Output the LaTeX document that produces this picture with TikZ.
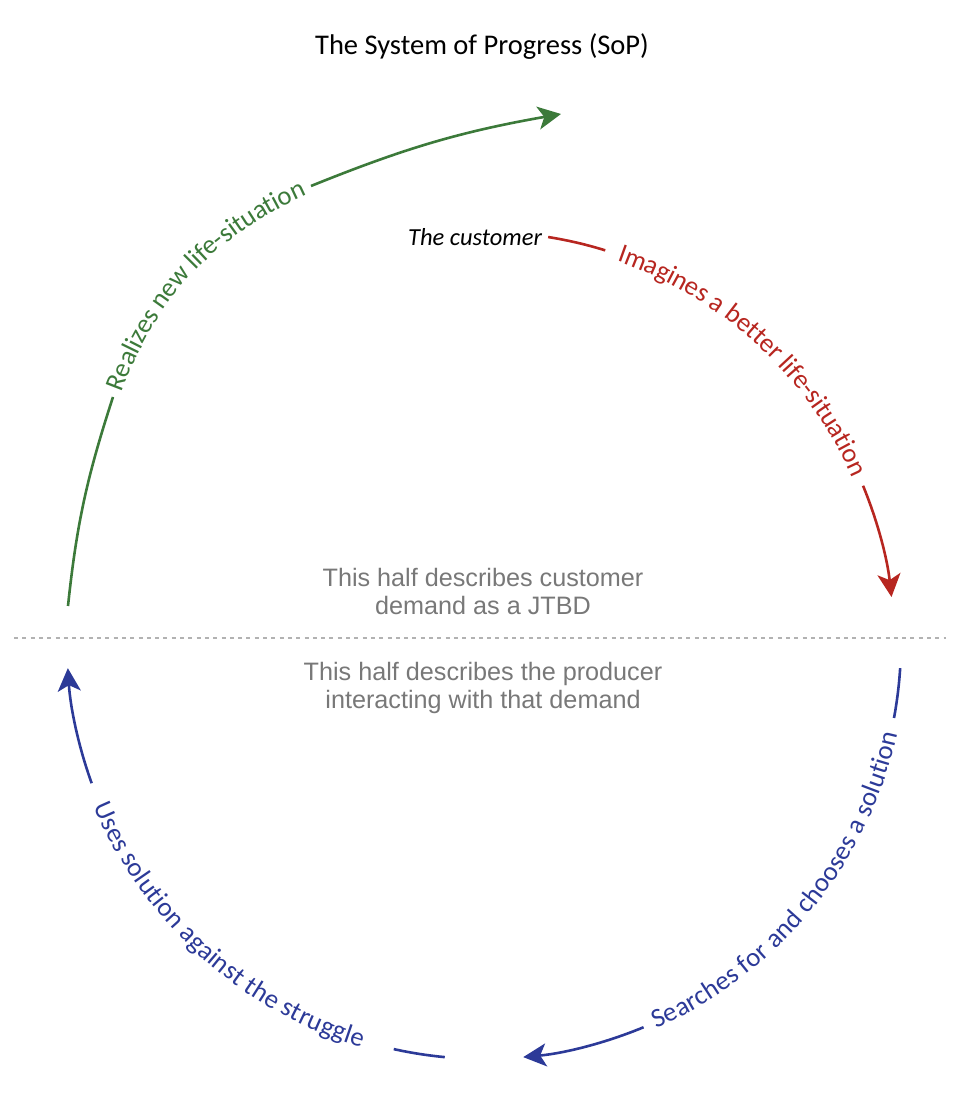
\documentclass[tikz,border=0pt]{standalone}
\usepackage{fontspec}
\setmainfont{Carlito}
\newfontfamily\notefont{Liberation Sans}
\usetikzlibrary{positioning}
\usetikzlibrary{arrows.meta}
\usetikzlibrary{calc}
\usetikzlibrary{decorations.text}
\definecolor{sopgreen}{RGB}{60,122,58}
\definecolor{sopred}{RGB}{183,38,32}
\definecolor{sopblue}{RGB}{44,58,152}
\definecolor{sopgray}{RGB}{120,120,120}
\definecolor{sopdash}{RGB}{178,178,178}
\newcommand{\arcfont}{\fontsize{26.8}{26.8}\selectfont}
\tikzset{
x=1pt, y=1pt,
   line/.style = {%
    line width=2.6pt},
  arrow/.style = {%
    line width=2.6pt,
    -{Stealth[length=23pt, width=23pt, inset=6pt]}},
  along/.style 2 args = {%
    decorate,
    decoration={text along path,
        text={|\arcfont\color{#2}|#1},
        text align=center,
        raise=-6.5pt}},% <-- centres the letters on the arc
   half/.style = {%
    inner sep=0pt,
    align=center,
    text=sopgray,
    font=\notefont\fontsize{25.2}{28.5}\selectfont},
    }
\begin{document}
\begin{tikzpicture}
    \useasboundingbox (0,0) rectangle (968,1112);
    \coordinate (O) at (484,470);
    \node[anchor=base, font=\fontsize{28.5}{28.5}\selectfont] (sop) at (482,1057) {The System of Progress (SoP)};

    % divider between the two halves
    \coordinate (divL) at (14,474);
    \coordinate (divR) at (946,474);
    \coordinate (mid) at (483,474);
    \draw[sopdash, line width=2pt, dash pattern=on 4pt off 4.3pt] (divL) -- (divR);
    \node[half, above=23pt of mid] (demand) {This half describes customer\\demand as a JTBD};
    \node[half, below=24pt of mid] (producer) {This half describes the producer\\interacting with that demand};

    % red: imagines
    \coordinate (r0) at ($(O)+(81:410pt)$);
    \coordinate (r1) at ($(O)+(22.4:410pt)$);
    \node[left=6pt of r0, inner sep=0pt, font=\itshape\fontsize{24.5}{24.5}\selectfont] (cust) {The customer};
    \draw[sopred, line] (r0) arc[start angle=81, end angle=72.8, radius=410pt];
    \path[along={Imagines a better life-situation}{sopred}] ($(O)+(73.6:410pt)$) arc[start angle=73.6, end angle=21.2, radius=410pt];
    \draw[sopred, arrow] (r1) arc[start angle=22.4, end angle=6.3, radius=410pt];

    % blue: searches
    \coordinate (b0) at ($(O)+(-3.6:417pt)$);
    \coordinate (b1) at ($(O)+(-67.5:417pt)$);
    \draw[sopblue, line] (b0) arc[start angle=-3.6, end angle=-10.5, radius=417pt];
    \path[along={Searches for and chooses a solution}{sopblue}] ($(O)+(-70:417pt)$) arc[start angle=-70, end angle=-8.5, radius=417pt];
    \draw[sopblue, arrow] (b1) arc[start angle=-67.5, end angle=-84.6, radius=417pt];

    % blue: uses
    \coordinate (u0) at ($(O)+(264.6:417pt)$);
    \coordinate (u1) at ($(O)+(199.8:417pt)$);
    \draw[sopblue, line] (u0) arc[start angle=264.6, end angle=257.5, radius=417pt];
    \path[along={Uses solution against the struggle}{sopblue}] ($(O)+(196:417pt)$) arc[start angle=196, end angle=260, radius=417pt];
    \draw[sopblue, arrow] (u1) arc[start angle=199.8, end angle=183.6, radius=417pt];

    % green: realizes
    \coordinate (g0) at (68,506);
    \coordinate (g1) at (113,715);
    \coordinate (g2) at (311,926);
    \coordinate (g3) at (561,998);
    \draw[sopgreen, line] (g0) to[out=84, in=252] (g1);
    \path[along={Realizes new life-situation}{sopgreen}] ($(g1)+(252:15pt)$) to[out=72, in=202] ($(g2)+(22:15pt)$);
    \draw[sopgreen, arrow] (g2) to[out=22, in=190] (g3);
\end{tikzpicture}
\end{document}
